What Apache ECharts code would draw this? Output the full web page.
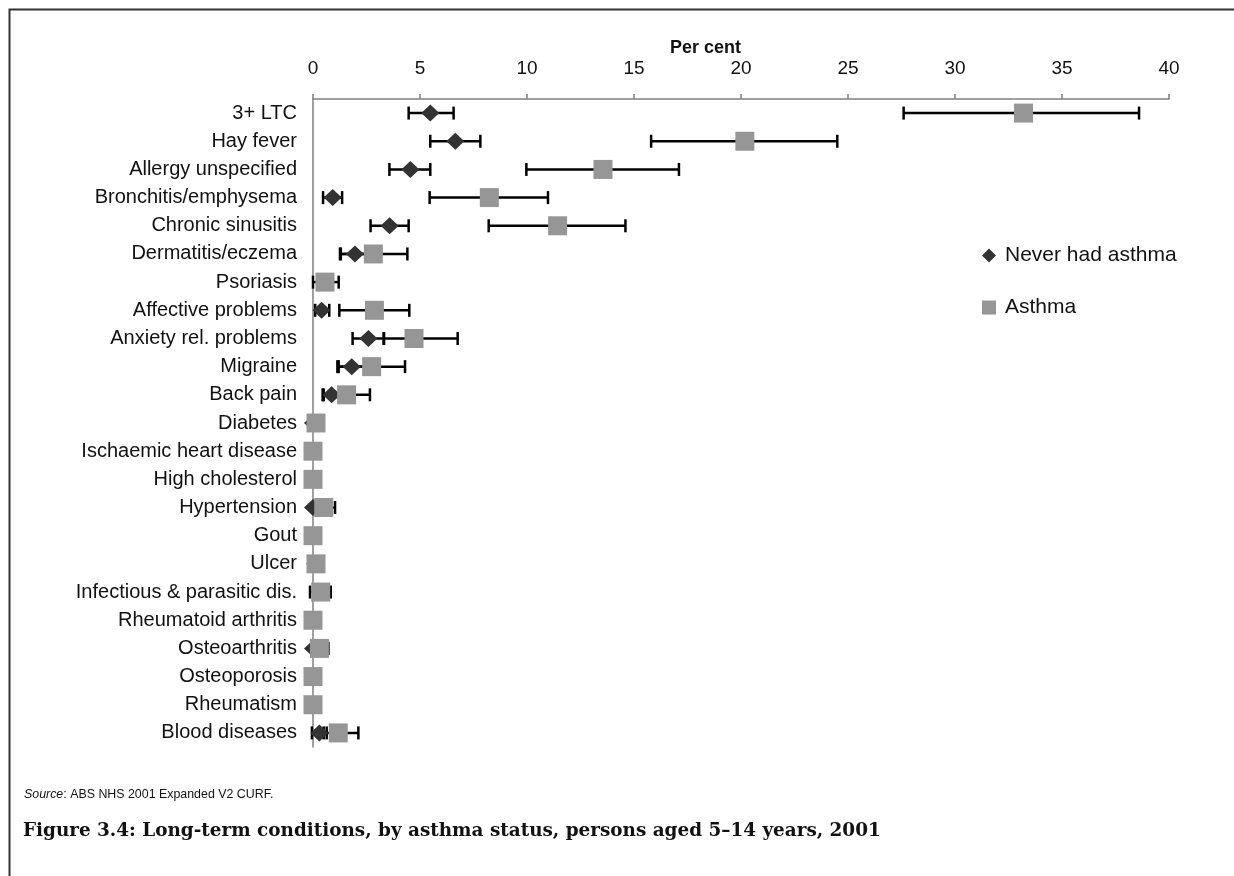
<!DOCTYPE html>
<html>
<head>
<meta charset="utf-8">
<script src="https://cdn.jsdelivr.net/npm/echarts@6/dist/echarts.min.js"></script>
<style>
html,body{margin:0;padding:0;background:#fff;}
#chart{width:1234px;height:876px;}
</style>
</head>
<body>
<div id="chart"></div>
<script>
const categories = ["3+ LTC","Hay fever","Allergy unspecified","Bronchitis/emphysema","Chronic sinusitis","Dermatitis/eczema","Psoriasis","Affective problems","Anxiety rel. problems","Migraine","Back pain","Diabetes","Ischaemic heart disease","High cholesterol","Hypertension","Gout","Ulcer","Infectious & parasitic dis.","Rheumatoid arthritis","Osteoarthritis","Osteoporosis","Rheumatism","Blood diseases"];
const neverValue = [5.48,6.65,4.55,0.92,3.58,1.96,0.5,0.4,2.59,1.81,0.87,0,0,0,0,0,0.1,0.3,0,0,0,0,0.3];
const neverLow   = [4.47,5.48,3.57,0.47,2.69,1.26,null,0.1,1.85,1.14,0.45,null,null,null,null,null,null,null,null,null,null,null,-0.05];
const neverHigh  = [6.57,7.82,5.48,1.36,4.47,2.6,null,0.76,3.32,2.5,1.3,null,null,null,null,null,null,null,null,null,null,null,0.64];
const asthmaValue = [33.2,20.18,13.55,8.24,11.43,2.82,0.56,2.87,4.72,2.74,1.57,0.14,0,0,0.5,0,0.14,0.36,0,0.3,0,0,1.18];
const asthmaLow   = [27.6,15.8,9.97,5.45,8.21,1.3,0.0,1.23,3.3,1.2,0.5,null,null,null,0.0,null,null,-0.14,null,0.0,null,null,0.5];
const asthmaHigh  = [38.6,24.5,17.1,10.98,14.6,4.41,1.2,4.5,6.76,4.3,2.66,null,null,null,1.03,null,null,0.83,null,0.72,null,null,2.12];
const xTicks = {min:0, max:40, interval:5};

function errData(lo, hi){
  const out = [];
  for (let i = 0; i < lo.length; i++) {
    if (lo[i] !== null && hi[i] !== null) out.push([lo[i], hi[i], i]);
  }
  return out;
}
function pointData(v){ return v.map((x,i)=>[x,i]); }

function renderErr(params, api){
  const lo = api.coord([api.value(0), api.value(2)]);
  const hi = api.coord([api.value(1), api.value(2)]);
  const h = 6.5;
  const style = {stroke:'#000', lineWidth:2.5};
  return {
    type:'group',
    children:[
      {type:'line', shape:{x1:lo[0], y1:lo[1], x2:hi[0], y2:hi[1]}, style:style},
      {type:'line', shape:{x1:lo[0], y1:lo[1]-h, x2:lo[0], y2:lo[1]+h}, style:style},
      {type:'line', shape:{x1:hi[0], y1:hi[1]-h, x2:hi[0], y2:hi[1]+h}, style:style}
    ]
  };
}

const chart = echarts.init(document.getElementById('chart'));
const font = 'Liberation Sans, Arial, sans-serif';
chart.setOption({
  animation:false,
  backgroundColor:'#fff',
  grid:{left:313, right:65, top:99, bottom:129, containLabel:false},
  xAxis:{
    type:'value', position:'top', min:xTicks.min, max:xTicks.max, interval:xTicks.interval,
    axisLine:{show:true, lineStyle:{color:'#808080', width:1.5}},
    axisTick:{show:true, inside:false, length:5, lineStyle:{color:'#808080', width:1.5}},
    axisLabel:{fontSize:19, color:'#111', margin:21, fontFamily:font},
    splitLine:{show:false}
  },
  yAxis:{
    type:'category', data:categories, inverse:true,
    axisLine:{show:true, lineStyle:{color:'#808080', width:1.5}},
    axisTick:{show:false},
    axisLabel:{fontSize:20, color:'#111', margin:16, fontFamily:font, interval:0}
  },
  legend:{
    orient:'vertical', left:977, top:240, itemGap:31, itemWidth:14, itemHeight:14,
    textStyle:{fontSize:21, color:'#111', fontFamily:font, padding:[0,0,0,4]},
    data:[{name:'Never had asthma', icon:'diamond'},{name:'Asthma', icon:'rect'}]
  },
  series:[
    {type:'custom', name:'errNever', renderItem:renderErr, data:errData(neverLow, neverHigh), encode:{x:[0,1], y:2}, z:2, silent:true},
    {type:'custom', name:'errAsthma', renderItem:renderErr, data:errData(asthmaLow, asthmaHigh), encode:{x:[0,1], y:2}, z:2, silent:true},
    {type:'scatter', name:'Never had asthma', symbol:'diamond', symbolSize:[18,17], data:pointData(neverValue), itemStyle:{color:'#333333', opacity:1}, z:3},
    {type:'scatter', name:'Asthma', symbol:'rect', symbolSize:19, data:pointData(asthmaValue), itemStyle:{color:'#969696', opacity:1}, z:4}
  ],
  graphic:[
    {type:'polyline', shape:{points:[[1234,9.5],[9.5,9.5],[9.5,876]]}, style:{stroke:'#333', lineWidth:2, fill:null}},
    {type:'text', left:670, top:39, style:{text:'Per cent', font:'bold 18px '+font, fill:'#111'}},
    {type:'text', left:24, top:789, style:{rich:{i:{fontStyle:'italic', fontSize:12.4, fontFamily:font, fill:'#111'}, n:{fontSize:12.4, fontFamily:font, fill:'#111'}}, text:'{i|Source}{n|: ABS NHS 2001 Expanded V2 CURF.}'}},
    {type:'text', left:23, top:822, style:{text:'Figure 3.4: Long-term conditions, by asthma status, persons aged 5\u201314 years, 2001', font:'bold 18.4px "DejaVu Serif", serif', fill:'#111'}}
  ]
});
</script>
</body>
</html>
